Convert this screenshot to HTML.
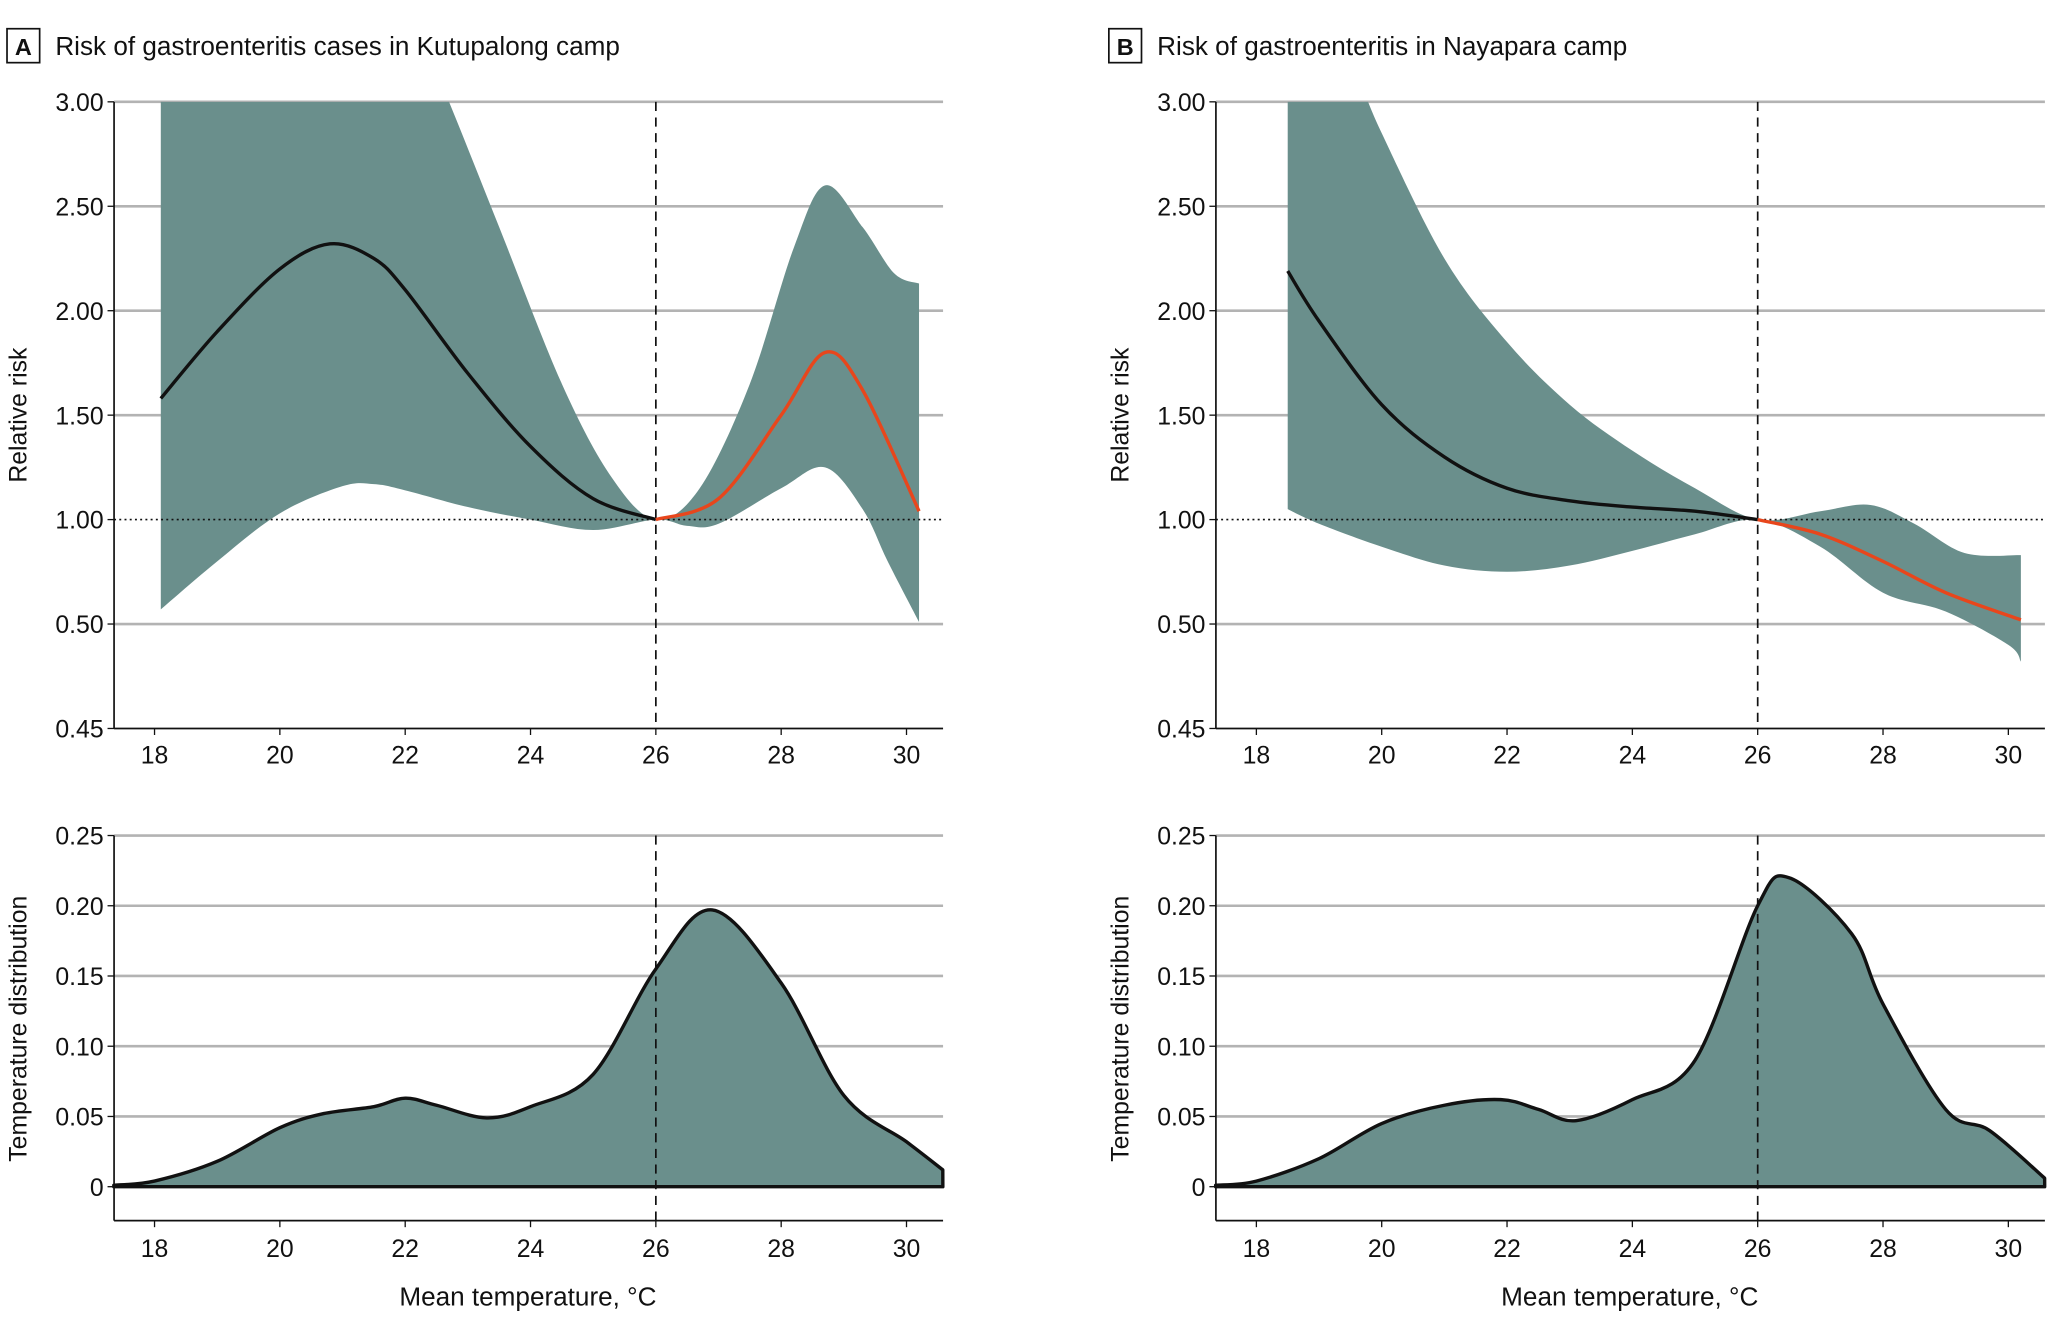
<!DOCTYPE html>
<html><head><meta charset="utf-8"><style>
html,body{margin:0;padding:0;background:#fff;}
svg{display:block;}
text{font-family:"Liberation Sans Narrow","Liberation Sans",sans-serif;fill:#111;}
</style></head><body>
<svg id="chart" width="2048" height="1329" viewBox="0 0 1568 1018" xmlns="http://www.w3.org/2000/svg"></svg>
<script>
// ---- data ----
const rrTicks = ["3.00","2.50","2.00","1.50","1.00","0.50","0.45"];
const rrTickVals = [3.0,2.5,2.0,1.5,1.0,0.5,0.0];
const densTicks = ["0.25","0.20","0.15","0.10","0.05","0"];
const densTickVals = [0.25,0.20,0.15,0.10,0.05,0];
const xTicks = [18,20,22,24,26,28,30];
const refTemp = 26;

// Panel A
const aLowT = [18.1,19,20,20.8,21.5,22,23,24,25,26];
const aLowRR = [1.58,1.9,2.2,2.32,2.25,2.1,1.7,1.35,1.1,1.0];
const aHighT = [26,27,28,28.7,29.3,30.2];
const aHighRR = [1.0,1.1,1.5,1.8,1.62,1.04];
const aUpT = [18.1,20,21,22,22.7,23.5,24.5,25.3,26,26.7,27.5,28.2,28.7,29.3,29.8,30.2];
const aUp = [3.6,3.6,3.6,3.5,3.0,2.4,1.65,1.2,1.0,1.15,1.65,2.3,2.6,2.4,2.18,2.13];
const aLoT = [18.1,19,20,21,21.5,22,23,24,25,26,26.5,27,28,28.7,29.3,29.7,30.2];
const aLo = [0.57,0.8,1.03,1.16,1.17,1.14,1.06,1.0,0.95,1.0,0.97,0.98,1.15,1.25,1.05,0.8,0.51];
const aDensT = [17.35,18,19,20,20.7,21.5,22,22.5,23.3,24,25,26,26.9,28,29,30,30.58];
const aDens = [0.001,0.004,0.018,0.042,0.052,0.057,0.063,0.058,0.049,0.057,0.08,0.155,0.197,0.145,0.065,0.032,0.012];

// Panel B
const bLowT = [18.5,19,20,21,22,23,24,25,26];
const bLowRR = [2.19,1.95,1.55,1.3,1.15,1.09,1.06,1.04,1.0];
const bHighT = [26,27,28,29,30.2];
const bHighRR = [1.0,0.93,0.8,0.65,0.52];
const bUpT = [18.5,19.5,20,21,22,23,24,25,26,27,27.8,28.5,29.3,30.2];
const bUp = [3.8,3.2,2.85,2.25,1.85,1.55,1.33,1.15,1.0,1.04,1.07,0.98,0.84,0.83];
const bLoT = [18.5,19,20,21,22,23,24,25,26,27,28,29,30,30.2];
const bLo = [1.05,0.98,0.87,0.78,0.75,0.78,0.85,0.93,1.0,0.87,0.65,0.56,0.4,0.32];
const bDensT = [17.35,18,19,20,21,21.9,22.5,23.1,24,25,26,26.5,27.5,28,29,29.7,30.58];
const bDens = [0.001,0.004,0.02,0.045,0.058,0.062,0.055,0.047,0.062,0.09,0.2,0.22,0.18,0.13,0.055,0.04,0.006];

const NS="http://www.w3.org/2000/svg";
const svg=document.getElementById('chart');
function el(tag,attrs,parent){const e=document.createElementNS(NS,tag);for(const k in attrs)e.setAttribute(k,attrs[k]);(parent||svg).appendChild(e);return e;}
function txt(s,attrs,parent){const e=el('text',attrs,parent);e.textContent=s;return e;}
function smooth(pts){let d='M'+pts[0][0].toFixed(1)+','+pts[0][1].toFixed(1);
 for(let i=0;i<pts.length-1;i++){const p0=pts[Math.max(0,i-1)],p1=pts[i],p2=pts[i+1],p3=pts[Math.min(pts.length-1,i+2)];
 const c1=[p1[0]+(p2[0]-p0[0])/6,p1[1]+(p2[1]-p0[1])/6],c2=[p2[0]-(p3[0]-p1[0])/6,p2[1]-(p3[1]-p1[1])/6];
 d+=' C'+c1[0].toFixed(1)+','+c1[1].toFixed(1)+' '+c2[0].toFixed(1)+','+c2[1].toFixed(1)+' '+p2[0].toFixed(1)+','+p2[1].toFixed(1);}return d;}

const FILL="#6a8f8c";
function panel(off,letter,title,d){
 const g=el('g',{transform:'translate('+off+',0)'});
 
 
 const x=t=>118+(t-18)*48;
 const yR=v=>398-(v-1)*160;
 const yD=v=>909-v*1076;
 const L=87,R=722;
 const bx=el('rect',{x:5,y:22,width:25,height:26,fill:'none',stroke:'#111','stroke-width':1.3},g);
 
 const lt=txt(letter,{x:17.5,y:42,'text-anchor':'middle','font-size':18,'font-weight':'bold'},g);
 
 const tt=txt(title,{x:42,y:42,'font-size':20},g);
 
 rrTicks.forEach((s,i)=>{const yy=yR(rrTickVals[i]);
  if(i<6&&s!=="1.00"){const gl=el('line',{x1:L,x2:R,y1:yy,y2:yy,stroke:'#b3b3b3','stroke-width':2},g);}
  el('line',{x1:L-5,x2:L,y1:yy,y2:yy,stroke:'#111','stroke-width':1},g);
  const t=txt(s,{x:L-8,y:yy+7,'text-anchor':'end','font-size':19},g);});
 const cp=el('clipPath',{id:'clip'+letter},g);el('rect',{x:L,y:yR(3),width:R-L,height:yR(0)-yR(3)},cp);
 const up=d.upT.map((t,i)=>[x(t),yR(d.up[i])]);const lo=d.loT.map((t,i)=>[x(t),yR(d.lo[i])]).reverse();
 const band=el('path',{d:smooth(up)+' L'+lo[0][0]+','+lo[0][1]+smooth(lo).replace(/^M[^ C]+/,'')+' Z',fill:FILL,'clip-path':'url(#clip'+letter+')'},g);
 
 const dl=el('line',{x1:L,x2:R,y1:yR(1),y2:yR(1),stroke:'#111','stroke-width':1.2,'stroke-dasharray':'1.5 2.5'},g);
 
 const vl=el('line',{x1:x(refTemp),x2:x(refTemp),y1:yR(3),y2:yR(0),stroke:'#111','stroke-width':1.3,'stroke-dasharray':'7 5'},g);
 
 const c1=el('path',{d:smooth(d.lowT.map((t,i)=>[x(t),yR(d.lowRR[i])])),fill:'none',stroke:'#111','stroke-width':2.6},g);
 
 const c2=el('path',{d:smooth(d.highT.map((t,i)=>[x(t),yR(d.highRR[i])])),fill:'none',stroke:'#e8461c','stroke-width':2.6},g);
 
 el('line',{x1:L,x2:L,y1:yR(3),y2:yR(0),stroke:'#111','stroke-width':1.3},g);
 el('line',{x1:L,x2:R,y1:yR(0),y2:yR(0),stroke:'#111','stroke-width':1.3},g);
 xTicks.forEach(t=>{el('line',{x1:x(t),x2:x(t),y1:yR(0),y2:yR(0)+5,stroke:'#111'},g);
  const tl=txt(String(t),{x:x(t),y:585,'text-anchor':'middle','font-size':19},g);});
 const yl=txt('Relative risk',{x:0,y:0,transform:'translate(20,318) rotate(-90)','text-anchor':'middle','font-size':19,style:'font-family:"Liberation Sans",sans-serif'},g);
 
 const bBot=935;
 densTicks.forEach((s,i)=>{const yy=yD(densTickVals[i]);
  if(i<5){const gl=el('line',{x1:L,x2:R,y1:yy,y2:yy,stroke:'#b3b3b3','stroke-width':2},g);}
  el('line',{x1:L-5,x2:L,y1:yy,y2:yy,stroke:'#111'},g);
  const t=txt(s,{x:L-8,y:yy+7,'text-anchor':'end','font-size':19},g);});
 const dp=d.densT.map((t,i)=>[x(t),yD(d.dens[i])]);
 const last=dp[dp.length-1];
 const area=el('path',{d:smooth(dp)+' L'+last[0]+','+yD(0)+' L'+dp[0][0]+','+yD(0)+' Z',fill:FILL,stroke:'#111','stroke-width':2.6,'stroke-linejoin':'round'},g);
 
 const vl2=el('line',{x1:x(refTemp),x2:x(refTemp),y1:yD(0.25),y2:bBot,stroke:'#111','stroke-width':1.3,'stroke-dasharray':'7 5'},g);
 
 el('line',{x1:L,x2:L,y1:yD(0.25),y2:bBot,stroke:'#111','stroke-width':1.3},g);
 el('line',{x1:L,x2:R,y1:bBot,y2:bBot,stroke:'#111','stroke-width':1.3},g);
 xTicks.forEach(t=>{el('line',{x1:x(t),x2:x(t),y1:bBot,y2:bBot+5,stroke:'#111'},g);
  const tl=txt(String(t),{x:x(t),y:963,'text-anchor':'middle','font-size':19},g);});
 const yl2=txt('Temperature distribution',{x:0,y:0,transform:'translate(20,788) rotate(-90)','text-anchor':'middle','font-size':19,style:'font-family:"Liberation Sans",sans-serif'},g);
 
 const xl=txt('Mean temperature, °C',{x:404,y:1000,'text-anchor':'middle','font-size':20},g);
 
}
panel(0,'A','Risk of gastroenteritis cases in Kutupalong camp',{lowT:aLowT,lowRR:aLowRR,highT:aHighT,highRR:aHighRR,upT:aUpT,up:aUp,loT:aLoT,lo:aLo,densT:aDensT,dens:aDens});
panel(844,'B','Risk of gastroenteritis in Nayapara camp',{lowT:bLowT,lowRR:bLowRR,highT:bHighT,highRR:bHighRR,upT:bUpT,up:bUp,loT:bLoT,lo:bLo,densT:bDensT,dens:bDens});
</script>
</body></html>
